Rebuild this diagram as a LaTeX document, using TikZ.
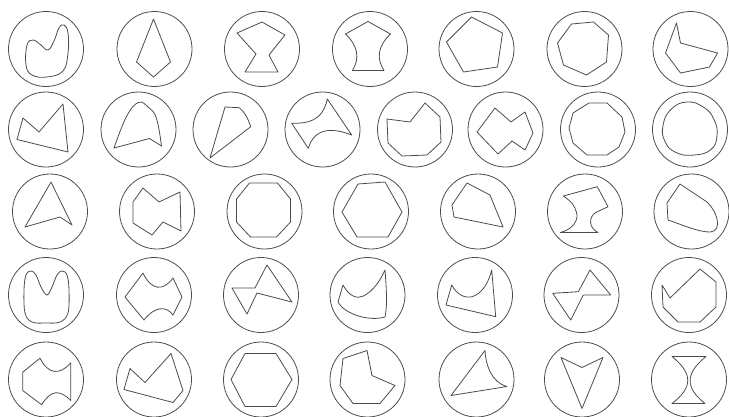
\documentclass[tikz,border=0pt]{standalone}
\usepackage{tikz}

\begin{document}
\begin{tikzpicture}[x=1pt, y=-1pt, ring/.style={draw=black!70, line width=0.8pt}, fig/.style={draw=black!70, line width=0.8pt, line join=round}]
	\useasboundingbox (0,0) rectangle (729,416);
	\foreach \cx in {46,154.5,262,370,476.5,584.5,690.5} \draw[ring] (\cx,49) circle (37.5pt);
	\foreach \cx in {46,138.5,230.5,322.5,415,505.5,598,690} \draw[ring] (\cx,129.5) circle (37.5pt);
	\foreach \cx in {50,157,264.5,371,478,585,691.5} \draw[ring] (\cx,211.5) circle (37.5pt);
	\foreach \cx in {46,154,261,367.5,475,581.5,689} \draw[ring] (\cx,295) circle (37.5pt);
	\foreach \cx in {46,154,261,367.5,476.5,582,689} \draw[ring] (\cx,379.5) circle (37.5pt);
	% row 1
	\draw[fig, shift={(46,49)}] plot[smooth cycle, tension=0.7] coordinates {(-19,-4) (-13,-9) (-5,-4) (2,1) (8,-8) (13,-21) (18,-24) (22,-16) (22,4) (17,22) (1,28) (-14,26) (-20,16)};
	\draw[fig, shift={(154.5,49)}] (-1,-30) -- (16,13) -- (-1,28) -- (-18,13) -- cycle;
	\draw[fig, shift={(262,49)}] (0,-27) -- (23,-14) -- (7,6) -- (16,23) -- (-17,23) -- (-6,5) -- (-25,-16) -- cycle;
	\draw[fig, shift={(370,49)}] (-2,-27.5) -- (20.5,-15) .. controls (8,-3) and (6,9) .. (14,21.5) -- (-17.5,21.5) .. controls (-10,9) and (-12,-3) .. (-24.5,-15) -- cycle;
	\draw[fig, shift={(476.5,49)}] (-5,-32) -- (26,-16) -- (21,18) -- (-13,23) -- (-30,-7) -- cycle;
	\draw[fig, shift={(584.5,49)}] (-13,-25) -- (9,-27) -- (24,-14) -- (22,13) -- (2,26) -- (-21,16) -- (-27,-6) -- cycle;
	\draw[fig, shift={(690.5,49)}] (-14,-26) -- (-10,-6) -- (27,4) -- (19,18) -- (-10,24) -- (-25,4) -- cycle;
	% row 2
	\draw[fig, shift={(46,129.5)}] (-29,10) -- (-23,-11.5) -- (-7,2.5) -- (17,-25.5) -- (22,22.5) -- cycle;
	\draw[fig, shift={(138.5,129.5)}] plot[smooth, tension=0.7] coordinates {(-24.5,18.5) (-12,-13) (0,-27) (10,-22) (18,-11) (23,16.5)} -- (11,9) -- cycle;
	\draw[fig, shift={(230.5,129.5)}] (-20.5,28.5) -- (-5.5,-22.5) -- (8.8,-21.8) .. controls (14,-18) and (18,-10) .. (20.2,-2.8) -- cycle;
	\draw[fig, shift={(322.5,129.5)}] (-30.8,-6.2) .. controls (-15,-6) and (0,-8) .. (4.8,-30.5) -- (29.2,5.5) .. controls (10,-2) and (-8,-2) .. (-14.2,18.8) -- cycle;
	\draw[fig, shift={(415,129.5)}] (-28,-10.5) -- (-5,-7.5) -- (10,-26.5) -- (25,-12.5) -- (26,12.5) -- (12,25.5) -- (-13,26.5) -- (-27,13.5) -- cycle;
	\draw[fig, shift={(505.5,129.5)}] (-28.5,2.5) -- (-10.5,-21.5) -- (5.5,-7.5) -- (19.5,-17.5) -- (27.5,3.5) -- (19.5,20.5) -- (6.5,11.5) -- (-7.5,24.5) -- cycle;
	\draw[fig, shift={(598,129.5)}] (-9,-26.5) -- (9,-26.5) -- (24,-12.5) -- (27,2.5) -- (21,17.5) -- (9,25.5) -- (-11,25.5) -- (-25,13.5) -- (-29,-1.5) -- (-25,-16.5) -- cycle;
	\draw[fig, shift={(690,129.5)}] plot[smooth cycle, tension=0.8] coordinates {(-3,-27.5) (14,-22) (24,-10) (27,6) (21,20) (4,25.5) (-14,23) (-25,12) (-27,-4) (-19,-20)};
	% row 3
	\draw[fig, shift={(50,211.5)}] (1,-29.5) -- (22,13.5) -- (10,5.5) -- (-25,15.5) -- cycle;
	\draw[fig, shift={(157,211.5)}] (-14,-23.5) -- (2,-9.5) -- (23,-19.5) -- (24,19.5) -- (6,10.5) -- (-5,23.5) -- (-24,11.5) -- (-24,-9.5) -- cycle;
	\draw[fig, shift={(264.5,211.5)}] (-15,-28.5) -- (13,-28.5) -- (26,-12.5) -- (26,10.5) -- (12,25.5) -- (-14,25.5) -- (-28,10.5) -- (-28,-12.5) -- cycle;
	\draw[fig, shift={(371,211.5)}] (-29,0.5) -- (-13,-27.5) -- (14,-29.5) -- (31,0.5) -- (17,25.5) -- (-14,25.5) -- cycle;
	\draw[fig, shift={(478,211.5)}] (-11,-28.5) -- (12,-16.5) -- (25,15.5) -- (-24,5.5) -- (-26,-6.5) -- cycle;
	\draw[fig, shift={(585,211.5)}] (-21.5,-15.5) -- (12.3,-24.8) -- (23,-4.8) -- (10.7,1) .. controls (4,5) and (3,16) .. (13,21) -- (-24.7,21) .. controls (-12,18) and (-6,8) .. (-8.5,1) .. controls (-10,-6) and (-14,-10) .. (-21.5,-15.5) -- cycle;
	\draw[fig, shift={(691.5,211.5)}] (-24.5,-8.5) -- (-11.5,-27.5) -- (15.5,-9.5) .. controls (25,-1) and (32,19) .. (19,20.5) .. controls (8,21) and (-10,13) .. (-23.5,8.5) -- cycle;
	% row 4
	\draw[fig, shift={(46,295)}] plot[smooth cycle, tension=0.6] coordinates {(-22,-5) (-20,-20) (-15,-24) (-10,-20) (-5,-8) (1,0) (6,-8) (11,-20) (16,-24) (21,-20) (23,-5) (22,18) (14,27) (0,28) (-14,27) (-21,18)};
	\draw[fig, shift={(154,295)}] (-29,2) -- (-11,-22) .. controls (-3,-5) and (9,-3) .. (19,-17) -- (28,2) -- (19,20) .. controls (12,10) and (0,12) .. (-10,25) -- cycle;
	\draw[fig, shift={(261,295)}] (-29,-7) -- (-6,-7) -- (6,-30) -- (31,7) -- (-4,-2) -- (-14,19) -- cycle;
	\draw[fig, shift={(367.5,295)}] (-24.5,-10) .. controls (-18,2) and (-10,4) .. (-4,1) .. controls (6,-4) and (13,-15) .. (17.5,-25) .. controls (19,-5) and (20,10) .. (17.5,22) .. controls (0,27) and (-24,18) .. (-29.5,7) -- cycle;
	\draw[fig, shift={(475,295)}] (-29,10) -- (-23.3,-10) .. controls (-18,0) and (-10,3) .. (-4,2) .. controls (8,-1) and (14,-14) .. (16.7,-25) -- (20.7,21.7) -- cycle;
	\draw[fig, shift={(581.5,295)}] (-28.8,-1.7) -- (-3.2,-3.3) -- (8.5,-25) -- (29.2,0) -- (1.8,0) -- (-10.8,25) -- cycle;
	\draw[fig, shift={(689,295)}] (-27,-10) -- (-19,3) -- (11,-26) -- (27,-13) -- (27,12) -- (11,27) -- (-11,27) -- (-26,12) -- cycle;
	% row 5
	\draw[fig, shift={(46,379.5)}] (-23.3,-7.3) -- (-6,-21.3) .. controls (2,-5) and (14,-4) .. (24.7,-16.7) -- (24.7,21) .. controls (14,10) and (5,10) .. (-4.3,25.3) -- (-23.3,11) -- cycle;
	\draw[fig, shift={(154,379.5)}] (-24,-11) -- (-9,3) -- (17,-26) -- (29,11) -- (19,23) -- (-30,10) -- cycle;
	\draw[fig, shift={(261,379.5)}] (-16,-26) -- (15,-26) -- (31,0) -- (15,27) -- (-16,27) -- (-30,0) -- cycle;
	\draw[fig, shift={(367.5,379.5)}] (-24.5,-21) -- (-0.5,-29) -- (4.5,-4) -- (27.5,6) -- (12.5,24) -- (-14.5,24) -- (-27.5,6) -- cycle;
	\draw[fig, shift={(476.5,379.5)}] (-25.5,16) -- (8.5,-29) .. controls (9,-15) and (15,3) .. (30.5,7) -- cycle;
	\draw[fig, shift={(582,379.5)}] (-21,-22) -- (0,-12) -- (21,-22) -- (0,29) -- cycle;
	\draw[fig, shift={(689,379.5)}] (-17,-23) -- (17,-23) .. controls (-4,-6) and (-4,8) .. (16,24) -- (-17,24) .. controls (4,8) and (4,-6) .. (-17,-23) -- cycle;
\end{tikzpicture}
\end{document}
